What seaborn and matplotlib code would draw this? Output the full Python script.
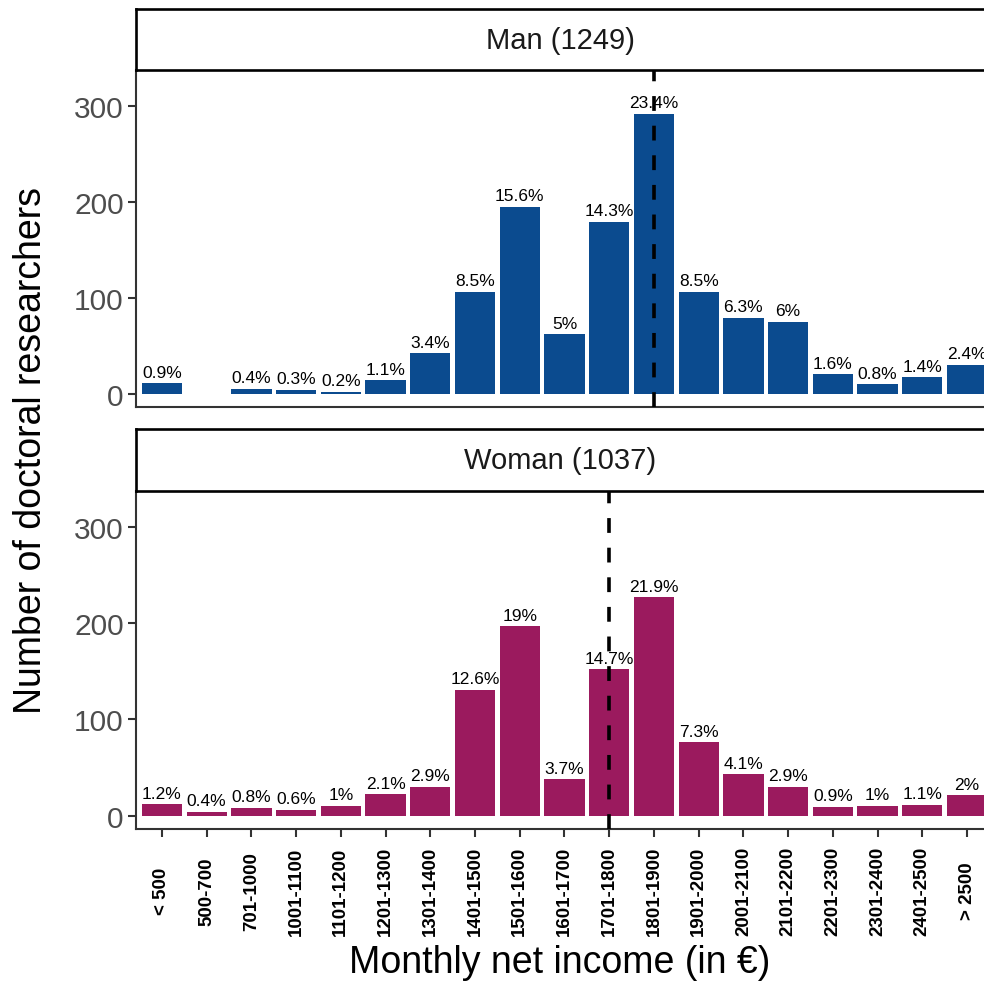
import matplotlib
matplotlib.use("Agg")
import matplotlib.pyplot as plt
import seaborn as sns

# income brackets (x axis)
categories = ["< 500", "500-700", "701-1000", "1001-1100", "1101-1200", "1201-1300",
              "1301-1400", "1401-1500", "1501-1600", "1601-1700", "1701-1800",
              "1801-1900", "1901-2000", "2001-2100", "2101-2200", "2201-2300",
              "2301-2400", "2401-2500", "> 2500"]

# counts and labels per panel
man_counts = [11, 0, 5, 4, 2, 14, 42, 106, 195, 62, 179, 292, 106, 79, 75, 20, 10, 17, 30]
man_labels = ["0.9%", "", "0.4%", "0.3%", "0.2%", "1.1%", "3.4%", "8.5%", "15.6%", "5%",
              "14.3%", "23.4%", "8.5%", "6.3%", "6%", "1.6%", "0.8%", "1.4%", "2.4%"]
woman_counts = [12, 4, 8, 6, 10, 22, 30, 131, 197, 38, 152, 227, 76, 43, 30, 9, 10, 11, 21]
woman_labels = ["1.2%", "0.4%", "0.8%", "0.6%", "1%", "2.1%", "2.9%", "12.6%", "19%", "3.7%",
                "14.7%", "21.9%", "7.3%", "4.1%", "2.9%", "0.9%", "1%", "1.1%", "2%"]

# median bracket per panel (dashed line)
man_median = "1801-1900"
woman_median = "1701-1800"

panel_titles = ["Man (1249)", "Woman (1037)"]
panel_colors = ["#0B4B8F", "#9B1A5E"]
y_ticks = [0, 100, 200, 300]

sns.set_theme(style="white")
plt.rcParams["font.family"] = ["Liberation Sans", "DejaVu Sans"]

W, H = 984, 987
fig = plt.figure(figsize=(W / 100, H / 100), dpi=100)


def px_box(x0, y0, x1, y1):
    return [x0 / W, 1 - y1 / H, (x1 - x0) / W, (y1 - y0) / H]


panels = [
    dict(strip=(136, 10, 1000, 71), panel=(136, 71, 984, 408),
         counts=man_counts, labels=man_labels, median=man_median),
    dict(strip=(136, 430, 1000, 492), panel=(136, 492, 984, 830),
         counts=woman_counts, labels=woman_labels, median=woman_median),
]

for i, p in enumerate(panels):
    ax = fig.add_axes(px_box(*p["panel"]))
    sns.barplot(x=categories, y=p["counts"], ax=ax, color=panel_colors[i],
                width=0.9, saturation=1, order=categories, linewidth=0)
    ax.set_xlim(-0.58, 18.38)
    ax.set_ylim(-14, 337.5)

    m = categories.index(p["median"])
    ax.axvline(m, color="black", linewidth=2.6, linestyle=(0, (4.1, 4.1)), zorder=3)

    for j, (c, lab) in enumerate(zip(p["counts"], p["labels"])):
        if lab:
            ax.annotate(lab, (j, c), xytext=(0, 2.5), textcoords="offset points",
                        ha="center", va="bottom", fontsize=12.5, color="black", zorder=4,
                        annotation_clip=False)

    for side in ["top", "right"]:
        ax.spines[side].set_visible(False)
    for side in ["left", "bottom"]:
        ax.spines[side].set_color("#333333")
        ax.spines[side].set_linewidth(1.5)

    ax.set_yticks(y_ticks)
    ax.tick_params(axis="y", length=5.8, width=1.5, color="#333333", labelsize=21.5,
                   labelcolor="#4D4D4D", pad=3, left=True)
    ax.set_xlabel("")
    ax.set_ylabel("")
    if i == 0:
        ax.tick_params(axis="x", bottom=False, labelbottom=False)
    else:
        ax.tick_params(axis="x", length=5.8, width=1.5, color="#333333", bottom=True,
                       labelsize=13.5, labelcolor="black", pad=38.5)
        for lab in ax.get_xticklabels():
            lab.set_rotation(90)
            lab.set_va("center")
            lab.set_ha("center")
            lab.set_fontweight("bold")

    # strip header, drawn after the panel so its border stays whole
    sax = fig.add_axes(px_box(*p["strip"]))
    sax.set_xticks([])
    sax.set_yticks([])
    sax.set_facecolor("white")
    for s in sax.spines.values():
        s.set_color("black")
        s.set_linewidth(1.9)
    sax.text((560 - 136) / (1000 - 136), 0.5, panel_titles[i], ha="center", va="center",
             fontsize=21, color="#1A1A1A", transform=sax.transAxes)

fig.text(560 / W, 1 - 963 / H, "Monthly net income (in \u20ac)", ha="center", va="center",
         fontsize=27, color="black")
fig.text(31 / W, 1 - 450 / H, "Number of doctoral researchers", ha="center", va="center",
         rotation=90, fontsize=27, color="black")

fig.savefig("out.png", dpi=100)
